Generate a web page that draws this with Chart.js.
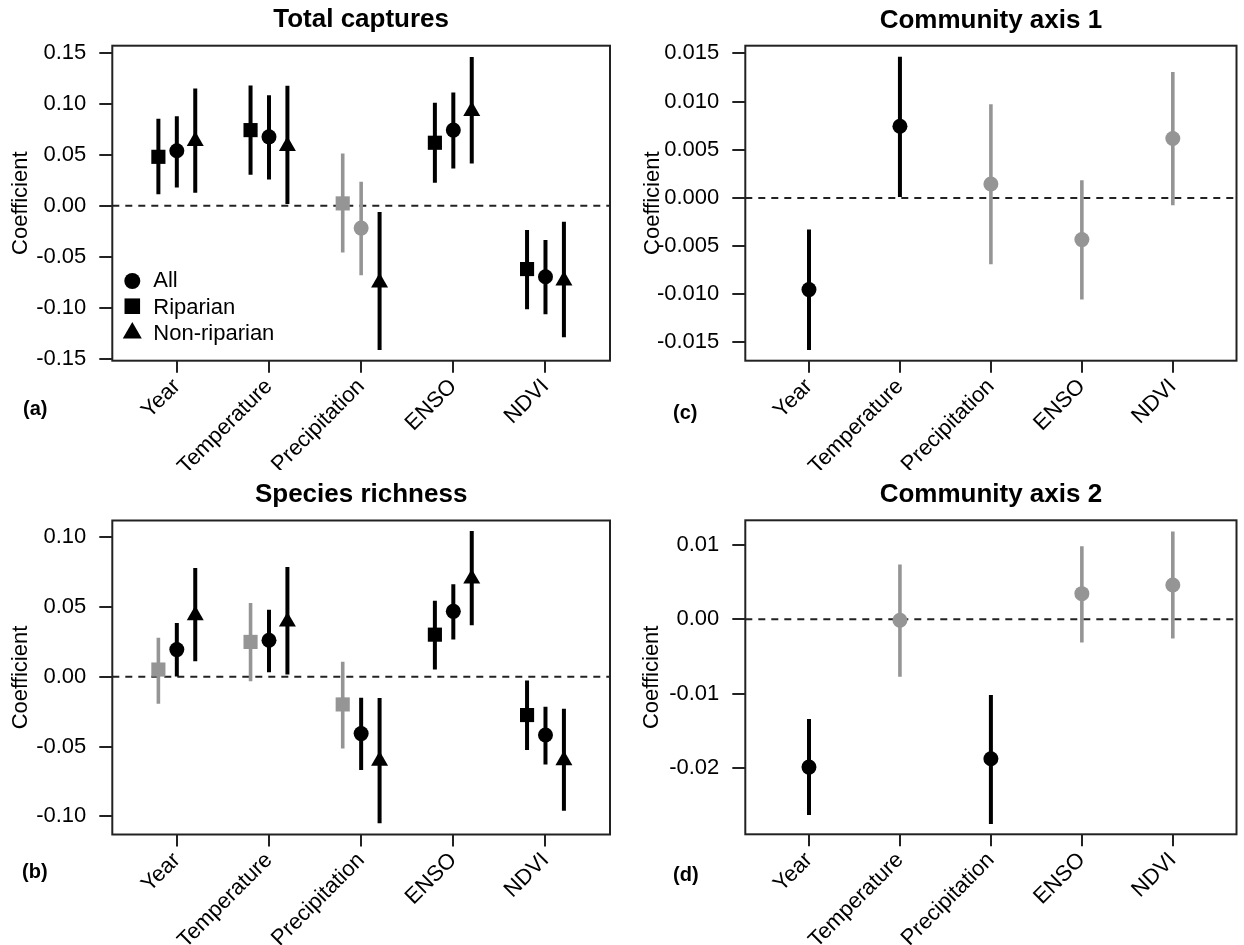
<!DOCTYPE html>
<html><head><meta charset="utf-8">
<script src="https://cdn.jsdelivr.net/npm/chart.js@4.4.1/dist/chart.umd.min.js"></script>
<style>
html,body{margin:0;padding:0;background:#fff;}
#wrap{position:relative;width:1244px;height:945px;overflow:hidden;background:#fff;}
canvas{position:absolute;display:block;}
</style></head><body>
<div id="wrap">
<canvas id="pa" width="620" height="470" style="left:0;top:0"></canvas>
<canvas id="pc" width="624" height="470" style="left:620px;top:0"></canvas>
<canvas id="pb" width="620" height="475" style="left:0;top:470px"></canvas>
<canvas id="pd" width="624" height="475" style="left:620px;top:470px"></canvas>
</div>
<script>
// ---------------- DATA ----------------
const categories = ['Year', 'Temperature', 'Precipitation', 'ENSO', 'NDVI'];

// (a) Total captures
const capAllEst = [0.0539, 0.0676, -0.0219, 0.0742, -0.0696];
const capAllLo  = [0.0180, 0.0258, -0.0683, 0.0366, -0.1065];
const capAllHi  = [0.0879, 0.1085, 0.0235, 0.1110, -0.0337];
const capRipEst = [0.0480, 0.0742, 0.0023, 0.0618, -0.0621];
const capRipLo  = [0.0114, 0.0304, -0.0458, 0.0225, -0.1016];
const capRipHi  = [0.0853, 0.1180, 0.0513, 0.1010, -0.0239];
const capNonEst = [0.0634, 0.0585, -0.0754, 0.0928, -0.0734];
const capNonLo  = [0.0127, 0.0016, -0.1415, 0.0415, -0.1290];
const capNonHi  = [0.1150, 0.1176, -0.0062, 0.1460, -0.0157];

// (b) Species richness
const richAllEst = [0.0195, 0.0262, -0.0407, 0.0469, -0.0417];
const richAllLo  = [0.0003, 0.0033, -0.0667, 0.0267, -0.0629];
const richAllHi  = [0.0386, 0.0481, -0.0150, 0.0664, -0.0214];
const richRipEst = [0.0052, 0.0250, -0.0198, 0.0302, -0.0274];
const richRipLo  = [-0.0193, -0.0031, -0.0514, 0.0052, -0.0524];
const richRipHi  = [0.0279, 0.0529, 0.0107, 0.0545, -0.0026];
const richNonEst = [0.0441, 0.0395, -0.0602, 0.0703, -0.0599];
const richNonLo  = [0.0112, 0.0017, -0.1050, 0.0369, -0.0960];
const richNonHi  = [0.0779, 0.0786, -0.0152, 0.1045, -0.0229];

// (c) Community axis 1
const ax1Est = [-0.00952, 0.00744, 0.00145, -0.00433, 0.00616];
const ax1Lo  = [-0.01580, 0.00010, -0.00689, -0.01055, -0.00076];
const ax1Hi  = [-0.00329, 0.01464, 0.00972, 0.00183, 0.01308];

// (d) Community axis 2
const ax2Est = [-0.01987, -0.00013, -0.01875, 0.00344, 0.00460];
const ax2Lo  = [-0.02630, -0.00772, -0.02750, -0.00313, -0.00259];
const ax2Hi  = [-0.01340, 0.00737, -0.01018, 0.00982, 0.01179];

// tick labels
const yTicksA = [-0.15, -0.10, -0.05, 0, 0.05, 0.10, 0.15];
const yTicksB = [-0.10, -0.05, 0, 0.05, 0.10];
const yTicksC = [-0.015, -0.010, -0.005, 0, 0.005, 0.010, 0.015];
const yTicksD = [-0.02, -0.01, 0, 0.01];

const legendLabels = ['All', 'Riparian', 'Non-riparian'];

// ---------------- STYLE ----------------
const BLACK = '#000000', GREY = '#959595', AXIS = '#222222';
const FONT = "'Liberation Sans', Arial, Helvetica, sans-serif";
Chart.defaults.font.family = FONT;
Chart.defaults.color = '#000';

const XMIN = 0.3, XMAX = 5.7;
const STYLE_ALL = {pointStyle: 'circle', radius: 7.5, offset: 0};
const STYLE_RIP = {pointStyle: 'rect', radius: 10, offset: -0.2};
const STYLE_NON = {pointStyle: 'triangle', radius: 9.8, offset: 0.2};

function sigColor(lo, hi) { return (lo > 0 || hi < 0) ? BLACK : GREY; }

function drawMarker(ctx, style, r, x, y) {
  if (Chart.helpers && Chart.helpers.drawPoint) {
    Chart.helpers.drawPoint(ctx, {pointStyle: style, radius: r, borderWidth: 0, rotation: 0}, x, y);
    return;
  }
  ctx.beginPath();
  if (style === 'circle') ctx.arc(x, y, r, 0, Math.PI * 2);
  else if (style === 'rect') { const s = r * Math.SQRT1_2; ctx.rect(x - s, y - s, 2 * s, 2 * s); }
  else { ctx.moveTo(x, y - r); ctx.lineTo(x + r * 0.866, y + r / 2); ctx.lineTo(x - r * 0.866, y + r / 2); ctx.closePath(); }
  ctx.fill();
}

function makePanel(id, cfg) {
  const canvas = document.getElementById(id);
  const W = canvas.width, H = canvas.height, P = cfg.plot;
  const datasets = [];
  const blackBars = [], greyBars = [];
  cfg.series.forEach(s => {
    s.lo.forEach((l, i) => {
      const x = i + 1 + s.style.offset;
      const target = sigColor(l, s.hi[i]) === BLACK ? blackBars : greyBars;
      target.push({x: x, y: l}, {x: x, y: s.hi[i]}, {x: x, y: null});
    });
  });
  cfg.series.forEach(s => {
    datasets.push({
      type: 'scatter', label: s.label,
      data: s.est.map((v, i) => ({x: i + 1 + s.style.offset, y: v})),
      pointStyle: s.style.pointStyle, pointRadius: s.style.radius,
      pointBackgroundColor: s.est.map((v, i) => sigColor(s.lo[i], s.hi[i])),
      pointBorderWidth: 0, pointBorderColor: 'rgba(0,0,0,0)', showLine: false, order: 0, clip: false
    });
  });
  datasets.push({type: 'scatter', label: 'ci-black', data: blackBars, showLine: true, spanGaps: false,
    borderColor: BLACK, borderWidth: 4, pointRadius: 0, order: 1, borderCapStyle: 'butt'});
  datasets.push({type: 'scatter', label: 'ci-grey', data: greyBars, showLine: true, spanGaps: false,
    borderColor: GREY, borderWidth: 3.6, pointRadius: 0, order: 1, borderCapStyle: 'butt'});
  datasets.push({type: 'scatter', label: 'zero', data: [{x: XMIN, y: 0}, {x: XMAX, y: 0}], showLine: true,
    borderColor: AXIS, borderWidth: 2, borderDash: [7, 6], pointRadius: 0, order: 2});

  const titleSize = 26, titleLH = titleSize * 1.2;
  const extras = {
    id: 'extras' + id,
    afterDraw(chart) {
      const ctx = chart.ctx, a = chart.chartArea;
      ctx.save();
      ctx.strokeStyle = AXIS; ctx.lineWidth = 2;
      ctx.strokeRect(a.left, a.top, a.right - a.left, a.bottom - a.top);
      ctx.fillStyle = '#000';
      ctx.font = 'bold 20px ' + FONT;
      ctx.textAlign = 'left'; ctx.textBaseline = 'middle';
      ctx.fillText(cfg.letter, cfg.letterPos[0], cfg.letterPos[1]);
      if (cfg.legend) {
        const styles = [STYLE_ALL, STYLE_RIP, STYLE_NON];
        const sizes = [8, 11, 11];
        const dy = [79.7, 54.5, 27.7];
        ctx.font = '22px ' + FONT;
        legendLabels.forEach((lab, k) => {
          const cy = a.bottom - dy[k];
          ctx.fillStyle = BLACK;
          drawMarker(ctx, styles[k].pointStyle, sizes[k], a.left + 20, cy);
          ctx.fillStyle = '#000';
          ctx.fillText(lab, a.left + 41, a.bottom - [80, 52.5, 26.5][k]);
        });
      }
      ctx.restore();
    }
  };

  return new Chart(canvas, {
    type: 'scatter',
    data: {datasets},
    options: {
      responsive: false, animation: false, events: [],
      layout: {padding: {left: 0, right: W - P.right, top: 0, bottom: 0}},
      plugins: {
        legend: {display: false}, tooltip: {enabled: false},
        title: {display: true, text: cfg.title, fullSize: false, color: '#000',
          font: {size: titleSize, weight: 'bold', family: FONT},
          padding: {top: cfg.titleY - titleLH / 2, bottom: P.top - cfg.titleY - titleLH / 2}}
      },
      scales: {
        x: {
          type: 'linear', min: XMIN, max: XMAX,
          afterBuildTicks: s => { s.ticks = categories.map((c, i) => ({value: i + 1})); },
          afterFit: s => { s.height = H - P.bottom; },
          grid: {drawOnChartArea: false, drawTicks: true, tickLength: 12, lineWidth: 2, color: AXIS},
          border: {display: false},
          ticks: {autoSkip: false, minRotation: 45, maxRotation: 45, padding: 1, color: '#000',
            font: {size: 22}, callback: v => categories[Math.round(v) - 1]}
        },
        y: {
          type: 'linear', min: cfg.yMin, max: cfg.yMax,
          afterBuildTicks: s => { s.ticks = cfg.yTicks.map(v => ({value: v})); },
          afterFit: s => { s.width = P.left; },
          grid: {drawOnChartArea: false, drawTicks: true, tickLength: 13, lineWidth: 2, color: AXIS},
          border: {display: false},
          ticks: {padding: 13, color: '#000', font: {size: 22}, callback: v => Number(v).toFixed(cfg.dec)},
          title: {display: true, text: 'Coefficient', color: '#000', font: {size: 22},
            padding: {top: cfg.yTitleX - 13.2, bottom: 0}}
        }
      }
    },
    plugins: [extras]
  });
}

makePanel('pa', {
  title: 'Total captures', titleY: 20,
  plot: {left: 112.3, right: 612, top: 45.7, bottom: 360.7},
  yMin: -0.152, yMax: 0.157, yTicks: yTicksA, dec: 2, yTitleX: 20.8,
  letter: '(a)', letterPos: [23, 409], legend: true,
  series: [
    {label: 'All', est: capAllEst, lo: capAllLo, hi: capAllHi, style: STYLE_ALL},
    {label: 'Riparian', est: capRipEst, lo: capRipLo, hi: capRipHi, style: STYLE_RIP},
    {label: 'Non-riparian', est: capNonEst, lo: capNonLo, hi: capNonHi, style: STYLE_NON}
  ]
});
makePanel('pb', {
  title: 'Species richness', titleY: 25,
  plot: {left: 112.3, right: 612, top: 50.5, bottom: 364.5},
  yMin: -0.113, yMax: 0.112, yTicks: yTicksB, dec: 2, yTitleX: 20.8,
  letter: '(b)', letterPos: [22, 402], legend: false,
  series: [
    {label: 'All', est: richAllEst, lo: richAllLo, hi: richAllHi, style: STYLE_ALL},
    {label: 'Riparian', est: richRipEst, lo: richRipLo, hi: richRipHi, style: STYLE_RIP},
    {label: 'Non-riparian', est: richNonEst, lo: richNonLo, hi: richNonHi, style: STYLE_NON}
  ]
});
makePanel('pc', {
  title: 'Community axis 1', titleY: 21,
  plot: {left: 125.3, right: 623, top: 45.7, bottom: 360.7},
  yMin: -0.0169, yMax: 0.0158, yTicks: yTicksC, dec: 3, yTitleX: 33,
  letter: '(c)', letterPos: [53, 413], legend: false,
  series: [{label: 'All', est: ax1Est, lo: ax1Lo, hi: ax1Hi, style: STYLE_ALL}]
});
makePanel('pd', {
  title: 'Community axis 2', titleY: 25,
  plot: {left: 125.3, right: 623, top: 50.3, bottom: 364.3},
  yMin: -0.0289, yMax: 0.0133, yTicks: yTicksD, dec: 2, yTitleX: 32,
  letter: '(d)', letterPos: [53, 405], legend: false,
  series: [{label: 'All', est: ax2Est, lo: ax2Lo, hi: ax2Hi, style: STYLE_ALL}]
});
</script>
</body></html>
